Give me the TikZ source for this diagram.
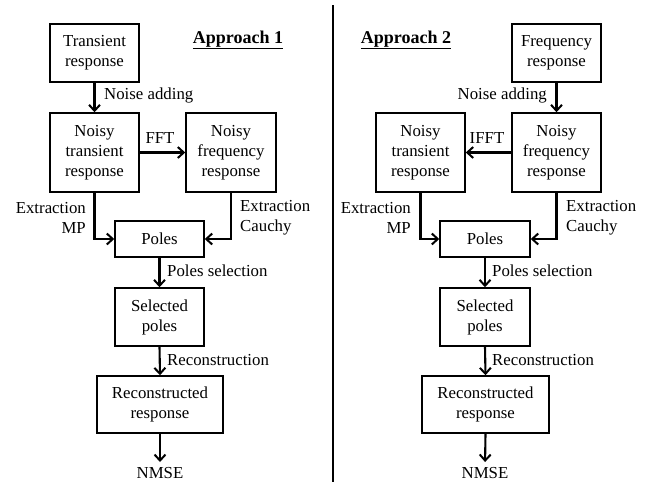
\documentclass[tikz,border=0pt]{standalone}
\usepackage{fontspec}
\setmainfont{Liberation Serif}
\usetikzlibrary{arrows.meta}
\begin{document}
\begin{tikzpicture}[x=1pt,y=-1pt,
  every node/.style={font=\fontsize{16.8}{20}\selectfont},
  blk/.style={draw,line width=1.5pt,inner sep=0pt,align=center},
  conn/.style={line width=2.1pt,-{Straight Barb[length=6pt,width=11pt,line width=2pt]}},
  lbl/.style={inner sep=0pt},
  head/.style={inner sep=0pt,font=\fontsize{18}{20}\selectfont\bfseries}]
\useasboundingbox (0,0) rectangle (653,482);
% ---------- Approach 1 ----------
\node[head] (h1) at (238,40) {\underline{Approach 1}};
\node[blk,minimum width=89pt,minimum height=58pt] (tr1) at (94.5,53) {Transient\\response};
\node[blk,minimum width=89pt,minimum height=79pt] (nt1) at (94.5,152.5) {Noisy\\transient\\response};
\node[blk,minimum width=90pt,minimum height=79pt] (nf1) at (231,152.5) {Noisy\\frequency\\response};
\node[blk,minimum width=89pt,minimum height=36pt] (po1) at (159.5,239) {Poles};
\node[blk,minimum width=89pt,minimum height=58pt] (se1) at (159.5,317) {Selected\\poles};
\node[blk,minimum width=126pt,minimum height=57pt] (re1) at (160,404.5) {Reconstructed\\response};
\node[lbl,anchor=north] (nm1) at (160,467) {NMSE};
\draw[conn] (tr1.south) -- (nt1.north);
\draw[conn] (nt1.east) -- (nf1.west);
\draw[conn] (nt1.south) |- (po1.west);
\draw[conn] (nf1.south) |- (po1.east);
\draw[conn] (po1.south) -- (se1.north);
\draw[conn] (se1.south) -- (re1.north);
\draw[conn,shorten >=5pt] (re1.south) -- (nm1.north);
\node[lbl,anchor=mid west] (l1a) at (104,97) {Noise adding};
\node[lbl] (l1b) at (160,138) {FFT};
\node[lbl,anchor=east,align=right] (l1c) at (86,217.5) {Extraction\\MP};
\node[lbl,anchor=west,align=left] (l1d) at (240,217.5) {Extraction\\Cauchy};
\node[lbl,anchor=mid west] (l1e) at (167,274) {Poles selection};
\node[lbl,anchor=mid west] (l1f) at (167,363) {Reconstruction};
% ---------- divider ----------
\draw[line width=2pt] (333,5) -- (333,482);
% ---------- Approach 2 ----------
\node[head] (h2) at (406,40) {\underline{Approach 2}};
\node[blk,minimum width=89pt,minimum height=58pt] (fr2) at (556.5,53) {Frequency\\response};
\node[blk,minimum width=89pt,minimum height=79pt] (nf2) at (556.5,152.5) {Noisy\\frequency\\response};
\node[blk,minimum width=89pt,minimum height=79pt] (nt2) at (420.5,152.5) {Noisy\\transient\\response};
\node[blk,minimum width=90pt,minimum height=36pt] (po2) at (485,239) {Poles};
\node[blk,minimum width=90pt,minimum height=58pt] (se2) at (485,317) {Selected\\poles};
\node[blk,minimum width=127pt,minimum height=57pt] (re2) at (485.5,404.5) {Reconstructed\\response};
\node[lbl,anchor=north] (nm2) at (485,467) {NMSE};
\draw[conn] (fr2.south) -- (nf2.north);
\draw[conn] (nf2.west) -- (nt2.east);
\draw[conn] (nt2.south) |- (po2.west);
\draw[conn] (nf2.south) |- (po2.east);
\draw[conn] (po2.south) -- (se2.north);
\draw[conn] (se2.south) -- (re2.north);
\draw[conn,shorten >=5pt] (re2.south) -- (nm2.north);
\node[lbl,anchor=mid east] (l2a) at (547,97) {Noise adding};
\node[lbl] (l2b) at (487,138) {IFFT};
\node[lbl,anchor=east,align=right] (l2c) at (411,217.5) {Extraction\\MP};
\node[lbl,anchor=west,align=left] (l2d) at (566,217.5) {Extraction\\Cauchy};
\node[lbl,anchor=mid west] (l2e) at (492,274) {Poles selection};
\node[lbl,anchor=mid west] (l2f) at (492,363) {Reconstruction};
\end{tikzpicture}
\end{document}
